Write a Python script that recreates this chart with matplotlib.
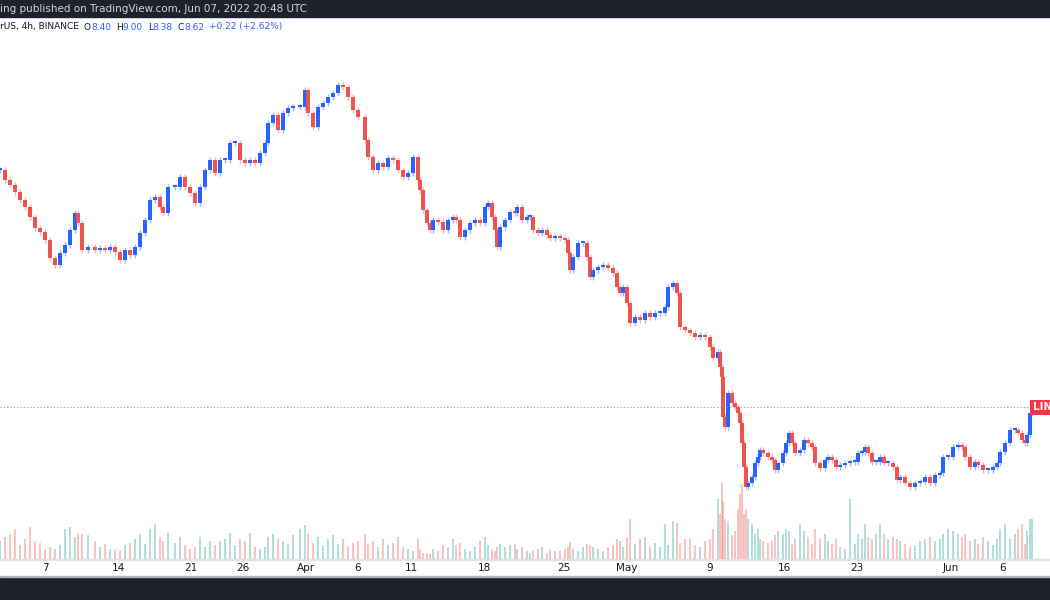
import matplotlib
matplotlib.use("Agg")
import matplotlib.pyplot as plt
from matplotlib.patches import Rectangle

# time position of each sampled candle (chart units, ~0.094 day each)
t_a = [0,5,10,15,20,25,30,35,40,45,50,55,60,65,70,75,78,82,88,95,100,105,110,115,120,125,130,135,140,145,150,155,160,163,168,
       175,180,185,190,195,200,205,210,215,220,225,230,235,240,245,250,255,260,265,268,273,278,283,288,293,
       300,305,308,313,318,323,328,333,338,343,348,353,358]
close_a = [14.55,14.30,14.18,14.00,13.80,13.63,13.38,13.10,13.00,12.80,12.35,12.18,12.48,12.68,13.05,13.48,13.23,12.55,12.63,
           12.55,12.60,12.55,12.63,12.50,12.30,12.55,12.43,12.63,12.98,13.30,13.80,13.88,13.63,13.48,14.13,
           14.13,14.38,14.13,13.98,13.73,14.13,14.55,14.80,14.48,14.80,14.80,15.23,15.23,14.80,14.73,14.80,14.73,14.98,15.23,
           15.73,15.93,15.55,15.98,16.10,16.13,16.13,16.55,15.98,15.63,16.13,16.23,16.38,16.48,16.68,16.63,16.38,16.05,15.88]
vol_a = [18,22,25,30,14,20,32,18,16,10,12,10,14,30,32,22,26,25,24,18,12,15,10,10,9,14,16,20,25,15,30,35,22,18,26,16,22,14,10,12,
         22,12,18,14,18,20,26,14,20,18,26,12,10,12,22,25,20,18,15,24,30,34,25,16,22,14,20,24,15,20,12,16,18]

t_b = [365,368,373,378,383,388,393,398,403,408,413,418,420,423,427,430,433,438,443,448,453,456,460,465,470,475,480,485,488,492,
       495,497,500,505,510,515,517,522,527,530,533,538,542,547,550,555,560,565,568,570,573,578,583,587,590,593,598,603,608,613,
       617,620,623,627,630,635,640,645,650,655,660,665,668,673,677,680,685]
close_b = [15.30,14.88,14.55,14.73,14.63,14.85,14.80,14.55,14.38,14.48,14.88,14.30,14.05,13.55,13.23,13.05,13.30,13.25,13.05,13.30,
           13.38,13.30,12.88,13.05,13.23,13.30,13.23,13.63,13.73,13.38,13.05,12.63,13.13,13.30,13.50,13.48,13.63,13.30,13.38,13.38,
           13.05,12.98,13.05,12.93,12.85,12.88,12.85,12.80,12.48,12.05,12.38,12.73,12.73,12.38,11.88,12.05,12.13,12.18,12.10,11.98,
           11.63,11.48,11.63,11.23,10.73,10.88,10.80,10.98,10.88,10.98,10.98,11.13,11.63,11.73,11.48,10.63,10.55]
vol_b = [25,15,18,12,20,14,16,22,12,10,8,20,10,6,6,5,10,8,14,12,20,14,16,10,8,12,18,22,14,10,8,12,15,12,14,15,10,12,8,6,
         8,10,12,6,10,8,9,10,12,17,10,8,12,15,14,12,10,8,12,14,20,18,12,22,40,15,20,22,12,16,12,35,14,38,36,16,20]

t_c = [690,695,700,705,710,713,718,720,722,723,725,728,732,735,738,740,742,744,746,748,752,755,758,760,763,768,772,775,778,783,
       786,789,792,795,800,804,808,812,815,820,825,828,832,836,840,845,850,855,858,862,865,868,872,876,880,884,888,893,897,900,
       905,910,915,920,925,930,935,940,943,948,953,958,962,965,970,975,978,983,988,993,997,1000,1005,1010,1015,1018,1022,1025,1027,1030,1032]
close_c = [10.48,10.38,10.43,10.38,10.13,9.85,10.00,9.63,9.38,8.38,8.13,8.98,8.73,8.63,8.48,8.23,7.73,7.13,6.63,6.73,
           6.88,7.23,7.38,7.55,7.48,7.38,7.30,7.05,7.23,7.48,7.73,7.98,7.73,7.48,7.55,7.80,7.73,7.63,7.23,7.10,
           7.30,7.38,7.30,7.13,7.18,7.23,7.25,7.25,7.48,7.50,7.63,7.48,7.25,7.25,7.38,7.23,7.23,7.13,6.80,6.88,
           6.73,6.63,6.73,6.75,6.88,6.73,6.93,6.98,7.38,7.38,7.63,7.68,7.63,7.38,7.13,7.25,7.18,7.05,7.05,7.13,
           7.23,7.50,7.73,8.05,8.05,7.98,7.80,7.73,7.93,8.48,8.62]
vol_c = [20,14,12,18,20,30,60,45,76,58,40,38,24,28,50,65,75,45,50,40,35,25,30,20,18,16,18,24,28,25,
         30,28,15,20,35,28,22,15,30,20,25,18,15,20,12,10,60,15,25,20,35,22,20,25,35,25,20,22,20,18,
         15,12,14,18,20,22,18,20,25,30,28,25,22,25,18,20,15,22,18,14,20,30,35,20,25,30,35,15,28,40,40]

tick_pos = [45,118,191,243,306,358,411,484,564,627,710,784,857,951,1003]
tick_lab = ["7","14","21","26","Apr","6","11","18","25","May","9","16","23","Jun","6"]
last_price = 8.62

t = t_a + t_b + t_c
close = close_a + close_b + close_c
vol = vol_a + vol_b + vol_c

UP, DN = "#2962ff", "#ef5350"
fig = plt.figure(figsize=(10.5, 6), dpi=100)
ax = fig.add_axes([0, 41/600, 1, (559-36)/600])
ax.set_xlim(0, 1050)
ax.set_ylim(18.8 - 559/40, 18.8 - 36/40)
ax.axis("off")
axv = ax.twinx()
axv.set_ylim(0, 523)
axv.axis("off")
axv.set_zorder(0); ax.set_zorder(1); ax.patch.set_visible(False)

opens = [close[0]] + close[:-1]
for ti, o, c, v in zip(t, opens, close, vol):
    col = UP if c >= o else DN
    vcol = "#26a69a" if c >= o else "#ef5350"
    lo, hi = min(o, c), max(o, c)
    ax.vlines(ti, lo - 0.08, hi + 0.08, color=col, lw=1.0, alpha=0.45)
    ax.bar(ti, max(hi - lo, 0.05), bottom=lo, width=3.6, color=col, linewidth=0)
    axv.bar(ti, v, width=2.6, color=vcol, alpha=0.35, linewidth=0)

ax.axhline(last_price, color=DN, lw=0.8, ls=(0, (1, 2)), alpha=0.8)
ax.text(1033, last_price, "LINK", color="white", fontsize=7.5, fontweight="bold", va="center", ha="left",
        bbox=dict(boxstyle="square,pad=0.25", fc="#f23645", ec="none"), zorder=5, clip_on=True)

# frame bars
fig.patches.append(Rectangle((0, 1-17/600), 1, 17/600, transform=fig.transFigure, color="#1e222d", zorder=-1))
fig.patches.append(Rectangle((0, 0), 1, 23/600, transform=fig.transFigure, color="#1e222d", zorder=-1))
fig.patches.append(Rectangle((0, 23/600), 1, 1.5/600, transform=fig.transFigure, color="#b2b5be", zorder=-1))
fig.patches.append(Rectangle((0, 40/600), 1, 1/600, transform=fig.transFigure, color="#e0e3eb", zorder=-1))
fig.text(0.0, 1-9/600, "ing published on TradingView.com, Jun 07, 2022 20:48 UTC", color="#d1d4dc", fontsize=7.5, va="center")

# header line, pieces chained one after another
parts = [("rUS, 4h, BINANCE", "#131722", 0), ("O", "#131722", 5), ("8.40", UP, 0), ("H", "#131722", 5), ("9.00", UP, 0),
         ("L", "#131722", 5), ("8.38", UP, 0), ("C", "#131722", 5), ("8.62", UP, 0), ("+0.22 (+2.62%)", UP, 5)]
fig.canvas.draw()
r = fig.canvas.get_renderer()
xpix = 0
for s, c, gap in parts:
    xpix += gap
    tx = fig.text(xpix/1050, 1-27/600, s, color=c, fontsize=6.5, va="center")
    xpix += tx.get_window_extent(renderer=r).width

for p, l in zip(tick_pos, tick_lab):
    fig.text(p/1050, 1-568/600, l, color="#131722", fontsize=7.5, ha="center", va="center")

fig.savefig("out.png", dpi=100, facecolor="white")
